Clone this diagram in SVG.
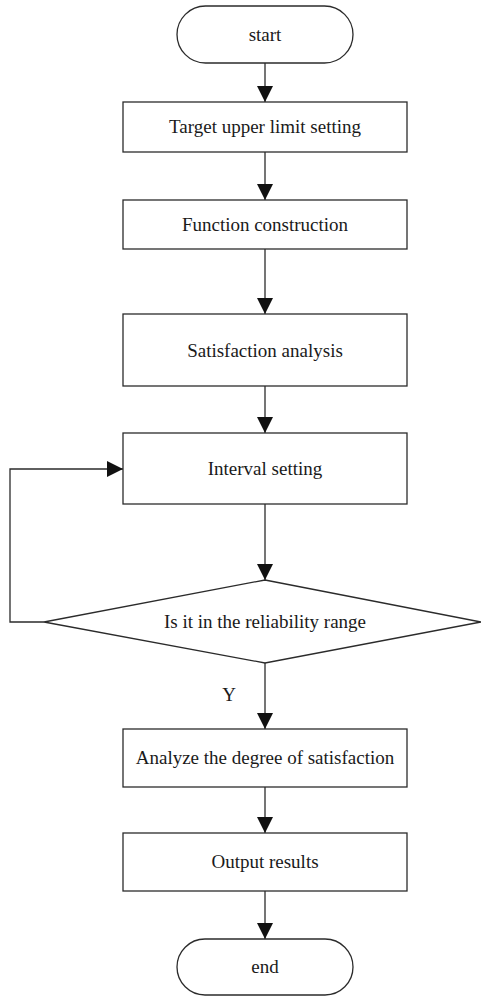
<svg xmlns="http://www.w3.org/2000/svg" width="481" height="996" viewBox="0 0 481 996">
  <defs>
    <style>
      .shape { fill: #ffffff; stroke: #2b2b2b; stroke-width: 1.3; }
      .line { fill: none; stroke: #2b2b2b; stroke-width: 1.3; }
      .label { font-family: "Liberation Serif", "Times New Roman", serif; font-size: 19px; fill: #1a1a1a; text-anchor: middle; }
    </style>
    <marker id="arrow" viewBox="0 0 16 16" refX="16" refY="8" markerWidth="16" markerHeight="16" markerUnits="userSpaceOnUse" orient="auto">
      <path d="M0,0 L16,8 L0,16 Z" fill="#111111"/>
    </marker>
  </defs>
  <rect width="481" height="996" fill="#ffffff"/>

  <!-- connectors -->
  <g id="connectors">
    <line class="line" x1="265" y1="63" x2="265" y2="102" marker-end="url(#arrow)"/>
    <line class="line" x1="265" y1="152" x2="265" y2="200" marker-end="url(#arrow)"/>
    <line class="line" x1="265" y1="249" x2="265" y2="314" marker-end="url(#arrow)"/>
    <line class="line" x1="265" y1="386" x2="265" y2="433" marker-end="url(#arrow)"/>
    <line class="line" x1="265" y1="504" x2="265" y2="580" marker-end="url(#arrow)"/>
    <polyline class="line" points="44,622 10,622 10,469 123,469" marker-end="url(#arrow)"/>
    <line class="line" x1="265" y1="663" x2="265" y2="729" marker-end="url(#arrow)"/>
    <text class="label" x="229" y="701">Y</text>
    <line class="line" x1="265" y1="787" x2="265" y2="833" marker-end="url(#arrow)"/>
    <line class="line" x1="265" y1="891" x2="265" y2="939" marker-end="url(#arrow)"/>
  </g>

  <g id="start">
    <rect class="shape" x="177" y="6" width="176" height="57" rx="28.5" ry="28.5"/>
    <text class="label" x="265" y="41">start</text>
  </g>

  <g id="target-upper-limit">
    <rect class="shape" x="123" y="102" width="284" height="50"/>
    <text class="label" x="265" y="133">Target upper limit setting</text>
  </g>

  <g id="function-construction">
    <rect class="shape" x="123" y="200" width="284" height="49"/>
    <text class="label" x="265" y="231">Function construction</text>
  </g>

  <g id="satisfaction-analysis">
    <rect class="shape" x="123" y="314" width="284" height="72"/>
    <text class="label" x="265" y="357">Satisfaction analysis</text>
  </g>

  <g id="interval-setting">
    <rect class="shape" x="123" y="433" width="284" height="71"/>
    <text class="label" x="265" y="475">Interval setting</text>
  </g>

  <g id="reliability-check">
    <polygon class="shape" points="265,580 481,622 265,663 44,622"/>
    <text class="label" x="265" y="628">Is it in the reliability range</text>
  </g>

  <g id="analyze-satisfaction">
    <rect class="shape" x="123" y="729" width="284" height="58"/>
    <text class="label" x="265" y="764">Analyze the degree of satisfaction</text>
  </g>

  <g id="output-results">
    <rect class="shape" x="123" y="833" width="284" height="58"/>
    <text class="label" x="265" y="868">Output results</text>
  </g>

  <g id="end">
    <rect class="shape" x="177" y="939" width="176" height="56" rx="28" ry="28"/>
    <text class="label" x="265" y="973">end</text>
  </g>
</svg>
